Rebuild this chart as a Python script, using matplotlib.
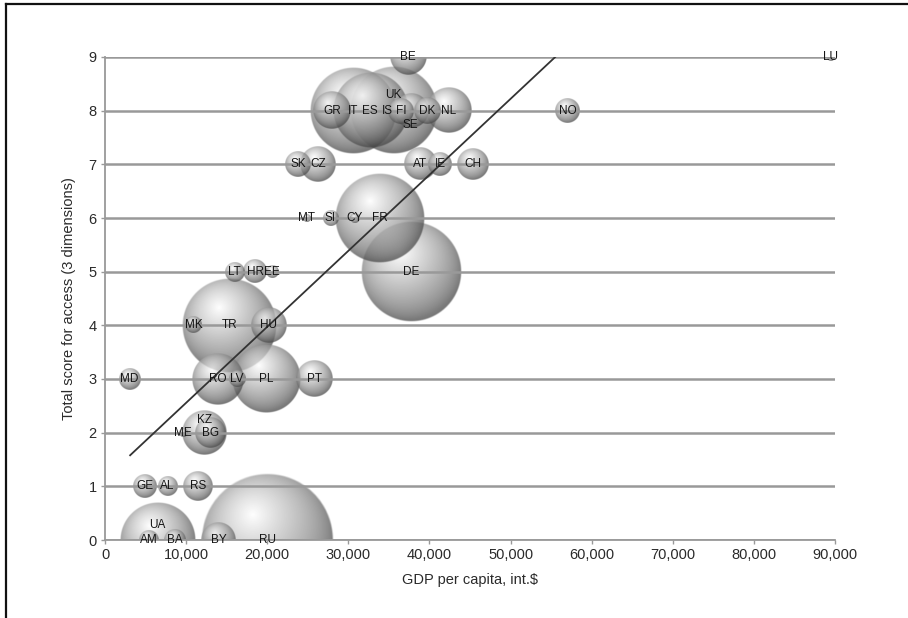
import numpy as np
import matplotlib
matplotlib.use("Agg")
import matplotlib.pyplot as plt
from matplotlib.lines import Line2D
from matplotlib.transforms import Affine2D, ScaledTranslation
from matplotlib.ticker import FuncFormatter

plt.rcParams['font.family'] = ['Liberation Sans', 'DejaVu Sans']

# ---- data ----
codes = ["LU", "BE",
         "GR", "IT", "ES", "IS", "FI", "UK", "DK", "NL", "SE", "NO",
         "SK", "CZ", "AT", "IE", "CH",
         "MT", "SI", "CY", "FR",
         "LT", "HR", "EE", "DE",
         "MK", "TR", "HU",
         "MD", "RO", "LV", "PL", "PT",
         "KZ", "ME", "BG",
         "GE", "AL", "RS",
         "UA", "AM", "BA", "BY", "RU"]
gdp = [89500, 37400,
       28000, 30600, 32700, 34800, 36500, 35600, 39700, 42400, 37700, 57000,
       23800, 26300, 38900, 41300, 45300,
       24800, 27800, 30800, 33900,
       16000, 18500, 20600, 37700,
       10900, 15400, 20200,
       3000, 13900, 16300, 19900, 25800,
       12300, 9600, 13000,
       4900, 7700, 11500,
       6500, 5400, 8600, 14000, 20000]
score = [9, 9,
         8, 8, 8, 8, 8, 8, 8, 8, 8, 8,
         7, 7, 7, 7, 7,
         6, 6, 6, 6,
         5, 5, 5, 5,
         4, 4, 4,
         3, 3, 3, 3, 3,
         2, 2, 2,
         1, 1, 1,
         0, 0, 0, 0, 0]
population = [0.5, 10.8,
              11.3, 60.3, 46.0, 0.32, 5.4, 62.0, 5.5, 16.6, 9.4, 4.9,
              5.4, 10.5, 8.4, 4.5, 7.8,
              0.4, 2.0, 0.8, 65.0,
              3.2, 4.4, 1.3, 82.0,
              2.1, 73.0, 10.0,
              3.6, 21.4, 2.2, 38.2, 10.6,
              16.2, 0.6, 7.5,
              4.4, 3.2, 7.3,
              45.8, 3.1, 3.8, 9.5, 142.0]
trend_x = [3100, 55500]
trend_intercept = 1.14
trend_slope = 0.1416e-3

x_ticks = list(range(0, 90001, 10000))
y_ticks = list(range(0, 10))

# label offsets (style only)
label_dy = {"UK": 0.29, "SE": -0.27, "UA": 0.28, "KZ": 0.24}

fig = plt.figure(figsize=(9.08, 6.18), dpi=100)
ax = fig.add_axes([105/908, 1-540/618, (835-105)/908, (540-57)/618])

# sphere shading image
n = 240
yy, xx = np.mgrid[1:-1:n*1j, -1:1:n*1j]
rho = np.hypot(xx, yy)
d = np.hypot(xx + 0.22, yy - 0.38)
L = 1.0 - 0.62*np.clip(d/1.35, 0, 1)**0.95 - 0.12*np.clip(rho, 0, 1)**6
L = np.clip(L, 0, 1)
A = np.clip((1.0 - rho)/0.025, 0, 1)*0.74
img = np.dstack([L, L, L, A])

R_SCALE = 5.55/100.0  # inches per sqrt(million)
order = np.argsort(population)[::-1]
for i in order:
    r = R_SCALE*np.sqrt(population[i])
    tr = (Affine2D().scale(r) + fig.dpi_scale_trans +
          ScaledTranslation(gdp[i], score[i], ax.transData))
    ax.imshow(img, extent=[-1, 1, -1, 1], transform=tr, aspect='auto',
              interpolation='bilinear', zorder=1)

for i, c in enumerate(codes):
    ax.text(gdp[i], score[i] + label_dy.get(c, 0.0), c, ha='center', va='center',
            fontsize=8.5, color='#151515', zorder=5, clip_on=False)

tx = np.array(trend_x, dtype=float)
ax.plot(tx, trend_intercept + trend_slope*tx, color='#333333', lw=1.3, zorder=4)

ax.set_xlim(0, 90000)
ax.set_ylim(0, 9)
ax.set_xticks(x_ticks)
ax.set_yticks(y_ticks)
ax.xaxis.set_major_formatter(FuncFormatter(lambda v, p: f"{int(v):,}"))
ax.set_axisbelow(False)
ax.yaxis.grid(True, color='#999999', lw=1.8, zorder=2.5)
ax.xaxis.grid(False)
for s in ['top', 'right']:
    ax.spines[s].set_visible(False)
for s in ['left', 'bottom']:
    ax.spines[s].set_color('#999999')
    ax.spines[s].set_linewidth(1.3)
ax.tick_params(axis='both', colors='#999999', length=3, width=1, labelsize=10.5,
               labelcolor='#2a2a2a', pad=3)
ax.set_facecolor('white')
ax.set_xlabel("GDP per capita, int.$", fontsize=10.5, color='#2a2a2a', labelpad=8)
ax.set_ylabel("Total score for access (3 dimensions)", fontsize=10.5, color='#2a2a2a',
              labelpad=9)

# image frame (top and left lines)
fig.add_artist(Line2D([6/908, 1], [1-4/618, 1-4/618], transform=fig.transFigure,
                      color='#111111', lw=1.6))
fig.add_artist(Line2D([6/908, 6/908], [0, 1-4/618], transform=fig.transFigure,
                      color='#111111', lw=1.6))

fig.savefig("out.png", dpi=100)
